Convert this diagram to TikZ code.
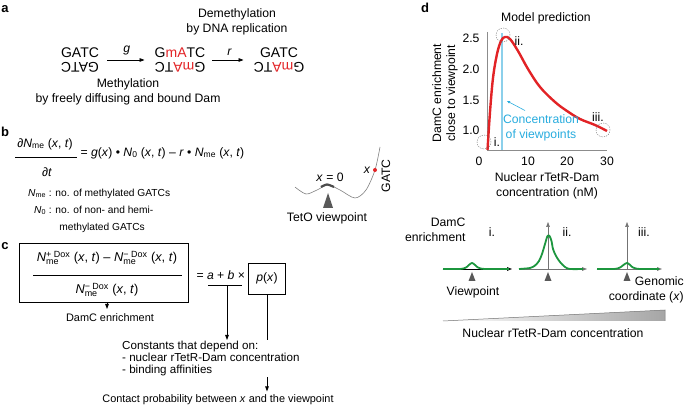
\documentclass[tikz,border=0pt]{standalone}
\usepackage{fontspec}
\usepackage{amsmath}
\setmainfont{Liberation Sans}
\usetikzlibrary{arrows.meta}
\definecolor{mered}{RGB}{226,35,38}
\definecolor{vpline}{RGB}{140,208,235}
\definecolor{vptext}{RGB}{40,172,222}
\definecolor{enrgreen}{RGB}{28,150,62}
\newcommand{\Nme}{\textit{N}\textsubscript{me}}
\newcommand{\xt}{(\textit{x}, \textit{t})}
\begin{document}
\begin{tikzpicture}[x=1pt, y=-1pt, font=\fontsize{12.2}{14.5}\selectfont,
  arr/.style={-{Triangle[length=5pt,width=3.6pt]}, line width=0.8pt},
  lbl/.style={font=\fontsize{13}{14}\selectfont\bfseries},
  strand/.style={align=center, inner sep=1pt, font=\fontsize{14}{14.5}\selectfont},
  small/.style={font=\fontsize{10.9}{11.8}\selectfont},
  ring/.style={circle, draw=black!60, dash pattern=on 1.2pt off 1.2pt, minimum size=14pt, inner sep=0pt},
  vtri/.style={fill=black!65},
  enr/.style={enrgreen, line width=1.8pt, line join=round}]
\useasboundingbox (0,0) rectangle (685,419);
% a
\node[lbl] (la) at (5,9) {a};
\node[strand] (s0) at (80,60) {GATC\\\rotatebox[origin=c]{180}{GATC}};
\node[strand] (s1) at (180,60) {G\textcolor{mered}{mA}TC\\\rotatebox[origin=c]{180}{G\textcolor{mered}{mA}TC}};
\node[strand] (s2) at (279,60) {GATC\\\rotatebox[origin=c]{180}{G\textcolor{mered}{mA}TC}};
\draw[arr, shorten <=7pt, shorten >=9pt] (s0) -- node[above=1pt] {\textit{g}} (s1);
\draw[arr, shorten <=6pt, shorten >=9pt] (s1) -- node[above=1pt] {\textit{r}} (s2);
\node[align=center] (demeth) at (237,22) {Demethylation\\by DNA replication};
\node[align=center] (meth) at (128,92) {Methylation\\by freely diffusing and bound Dam};
% b
\node[lbl] (lb) at (5,132) {b};
\node (dnum) at (45,144) {∂\Nme{} \xt};
\node (dden) at (47,172) {∂\textit{t}};
\draw[line width=0.6pt] (15,157) -- (77,157);
\node[anchor=west] (rate) at (77,153) {= \textit{g}(\textit{x}) • \textit{N}\textsubscript{0} \xt{} – \textit{r} • \Nme{} \xt};
\node[anchor=west, inner sep=0pt, font=\fontsize{10.2}{12}\selectfont] (defs) at (28,210) {\renewcommand{\arraystretch}{1.42}\begin{tabular}{@{}r@{ : }l@{}}
\Nme & no. of methylated GATCs\\
\textit{N}\textsubscript{0} & no. of non- and hemi-\\
\multicolumn{1}{@{}r@{\phantom{ : }}}{} & \hspace{4pt}methylated GATCs\end{tabular}};
\draw[black!50, line width=0.6pt] plot[smooth] coordinates {(295,187) (306,194) (317,190) (328,185) (340,190) (355,198) (366,190) (375,170) (380,147)};
\draw[black!70, line width=2.2pt] plot[smooth] coordinates {(321,187) (327,184.5) (334,187)};
\fill[mered] (375,170) circle (2pt);
\node (x0) at (330,177) {\textit{x} = 0};
\node (xpos) at (367,170) {\textit{x}};
\node[rotate=90] (gatc) at (386,176) {GATC};
\fill[vtri] (323,208) -- (328,193) -- (333,208) -- cycle;
\node (teto) at (327,218) {TetO viewpoint};
% c
\node[lbl] (lc) at (5,246) {c};
\node[draw, line width=0.8pt, minimum width=169pt, minimum height=59pt] (enrbox) at (103.5,272.5) {};
\node[font=\fontsize{12.8}{14}\selectfont] (enum) at (107,258) {\textit{N}$^{\text{+ Dox}}_{\text{me}}$ \xt{} – \textit{N}$^{\text{− Dox}}_{\text{me}}$ \xt};
\node[font=\fontsize{12.8}{14}\selectfont] (eden) at (107,290) {\textit{N}$^{\text{− Dox}}_{\text{me}}$ \xt};
\draw[line width=0.6pt] (33,275) -- (182,275);
\node[anchor=west] (eqab) at (193,275) {= \textit{a} + \textit{b} ×};
\coordinate (abmid) at (227,285);
\draw[line width=0.8pt] (208,285) -- (242,285);
\node[draw, line width=0.8pt, minimum width=37pt, minimum height=31pt] (pbox) at (267,278.5) {\textit{p}(\textit{x})};
\node[small] (dcenr) at (110,318) {DamC enrichment};
\draw[arr] (enrbox.south -| 107,0) -- (107,309);
\node[small] (contact) at (218,400) {Contact probability between \textit{x} and the viewpoint};
\draw[arr] (pbox.south) -- (pbox.south |- contact.north);
\node[anchor=north west, align=left, fill=white, inner sep=1pt, font=\fontsize{11.6}{11.8}\selectfont] (consts) at (121,340) {Constants that depend on:\\- nuclear rTetR-Dam concentration\\- binding affinities};
\draw[arr] (abmid) -- (abmid |- consts.north);
% d
\node[lbl] (ld) at (425,8) {d};
\node (mpred) at (546,18) {Model prediction};
\draw[black!45, line width=0.5pt] (487,32) -- (487,150) -- (607,150);
\draw[vpline, line width=2.6pt] (502,33) -- (502,150);
\draw[mered, line width=2.4pt] plot[smooth, tension=0.6] coordinates {(487.5,150) (490,112) (493,78) (497,54) (501,41) (505,37) (510,39) (518,51) (528,69) (540,87) (555,102) (567,111) (580,119) (595,125) (607,131)};
\foreach \v/\yy in {2.5/38, 2.0/69, 1.5/100, 1.0/130} \node[anchor=east] at (483,\yy) {\v};
\foreach \v/\xx in {0/479, 10/528, 20/567, 30/607} \node at (\xx,161) {\v};
\node[rotate=90, align=center, font=\fontsize{12.2}{14}\selectfont] (ylab) at (445,93) {DamC enrichment\\close to viewpoint};
\node[align=center] (xlab) at (547,186) {Nuclear rTetR-Dam\\concentration (nM)};
\node[ring] (ci) at (484,142) {};
\node[ring] (cii) at (503,35) {};
\node[ring] (ciii) at (603,130) {};
\node (ti) at (497,142) {i.};
\node (tii) at (519,41) {ii.};
\node (tiii) at (598,117) {iii.};
\node[align=center, text=vptext] (conc) at (541,128) {Concentration\\of viewpoints};
\coordinate (vptip) at (507,101);
\draw[vptext, line width=0.6pt, -{Triangle[length=3pt,width=2.4pt]}] ([xshift=-16pt,yshift=1pt]conc.north) -- (vptip);
% d lower
\node[align=right, anchor=east] (yenr) at (469,230) {DamC\\enrichment};
\draw[arr, line width=0.6pt] (443,269) -- (512,269);
\draw[arr, black!55, line width=0.6pt] (519,269) -- (587,269);
\draw[arr, black!55, line width=0.6pt] (548,269) -- (548,222);
\draw[arr, black!55, line width=0.6pt] (597,269) -- (662,269);
\draw[arr, black!55, line width=0.6pt] (627,269) -- (627,222);
\draw[enr] plot[smooth, tension=0.5] coordinates {(443,269) (460,269) (466,267.5) (472,263) (478,267.5) (485,269) (509,269)};
\draw[enr] plot[smooth, tension=0.5] coordinates {(519,269) (530,268) (535,265.5) (539,261) (542,254) (545,244) (547.5,236) (549.5,236) (551.5,241) (553,249) (556,256) (560,262) (565,267) (570,269) (583,269)};
\draw[enr] plot[smooth, tension=0.5] coordinates {(597,269) (614,269) (620,267.5) (627,263) (633,267.5) (640,269) (659,269)};
\foreach \px in {472, 548, 627} \fill[vtri] (\px-3.5,281) -- (\px,272) -- (\px+3.5,281) -- cycle;
\node (pi) at (492,232) {i.};
\node (pii) at (567,232) {ii.};
\node (piii) at (644,232) {iii.};
\node (vp) at (473,292) {Viewpoint};
\node[align=right, anchor=east, inner sep=1pt] (gcoord) at (685,290) {Genomic\\coordinate (\textit{x})};
\shade[left color=white, right color=black!35] (443,321) -- (665,310) -- (665,321) -- cycle;
\draw[black!55, line width=0.5pt] (443,321) -- (665,310) -- (665,321);
\node (nconc) at (553,333) {Nuclear rTetR-Dam concentration};
\end{tikzpicture}
\end{document}
